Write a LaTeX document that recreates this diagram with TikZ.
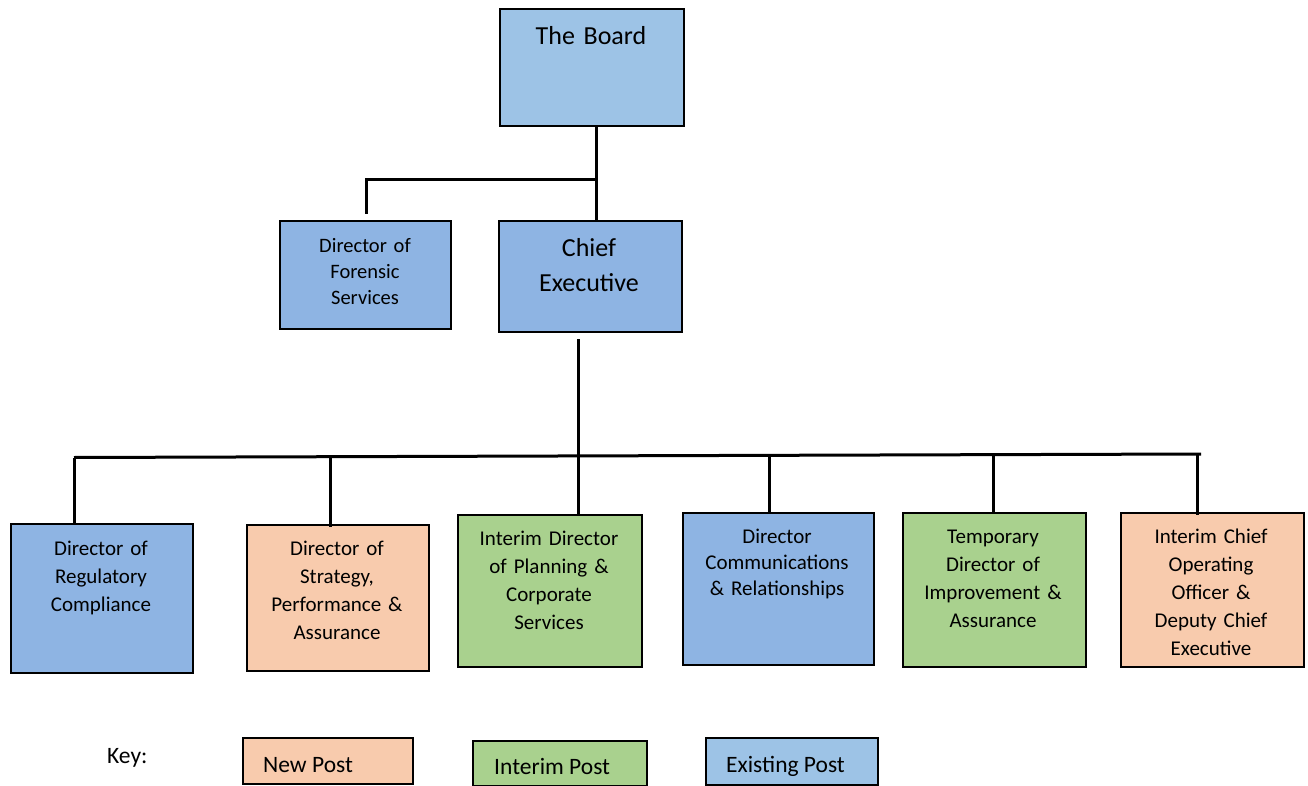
\documentclass[tikz,border=0pt]{standalone}
\usepackage{fontspec}
\setmainfont{Carlito}
\definecolor{blueA}{HTML}{9DC3E6}
\definecolor{blueB}{HTML}{8EB4E3}
\definecolor{peach}{HTML}{F8CBAD}
\definecolor{greenA}{HTML}{A9D18E}
\begin{document}
\begin{tikzpicture}[x=1pt,y=-1pt,
  box/.style={draw=black, line width=2pt, anchor=north west, inner sep=0pt},
  conn/.style={draw=black, line width=3pt},
  txt/.style={text width=180pt, align=center, inner sep=0pt, anchor=base, font=\fontsize{21}{28}\selectfont},
  txtb/.style={text width=180pt, align=center, inner sep=0pt, anchor=base, font=\fontsize{26}{35}\selectfont},
  keyt/.style={inner sep=0pt, anchor=base west, font=\fontsize{23.5}{26}\selectfont}]
\useasboundingbox (0,0) rectangle (1308,786);
% boxes
\node[box, fill=blueA, minimum width=184pt, minimum height=117pt] (board) at (499,8) {};
\node[box, fill=blueB, minimum width=171pt, minimum height=108pt] (fors) at (279,220) {};
\node[box, fill=blueB, minimum width=183pt, minimum height=111pt] (chief) at (498,220) {};
\node[box, fill=blueB, minimum width=182pt, minimum height=149pt] (reg) at (10,523) {};
\node[box, fill=peach, minimum width=182pt, minimum height=146pt] (strat) at (246,524) {};
\node[box, fill=greenA, minimum width=184pt, minimum height=152pt] (plan) at (457,514) {};
\node[box, fill=blueB, minimum width=191pt, minimum height=152pt] (comm) at (682,512) {};
\node[box, fill=greenA, minimum width=183pt, minimum height=154pt] (impr) at (902,512) {};
\node[box, fill=peach, minimum width=183pt, minimum height=154pt] (coo) at (1120,512) {};
% texts
\node[txtb] (boardt) at (591,45) {The Board};
\node[txt, font=\fontsize{20.5}{26}\selectfont] (forst) at (365,252) {Director of\\Forensic\\Services};
\node[txtb] (chieft) at (589,257) {Chief\\Executive};
\node[txt] (regt) at (101,555) {Director of\\Regulatory\\Compliance};
\node[txt] (stratt) at (337,555) {Director of\\Strategy,\\Performance \&\\Assurance};
\node[txt] (plant) at (549,545) {Interim Director\\of Planning \&\\Corporate\\Services};
\node[txt, font=\fontsize{21}{26}\selectfont] (commt) at (777,543) {Director\\Communications\\\& Relationships};
\node[txt] (imprt) at (993,543) {Temporary\\Director of\\Improvement \&\\Assurance};
\node[txt] (coot) at (1211,543) {Interim Chief\\Operating\\Officer \&\\Deputy Chief\\Executive};
% connectors top
\coordinate (j1) at (596,180);
\coordinate (j1l) at (366,180);
\coordinate (forsend) at (366,214);
\draw[conn] (board.south -| j1) -- (j1) -- (chief.north -| j1);
\draw[conn] (j1) -- (j1l) -- (forsend);
% bus
\coordinate (cstart) at (578,339);
\coordinate (busl) at (74,457.5);
\coordinate (busr) at (1201,454);
\coordinate (busm) at (578,456);
\draw[conn] (cstart) -- (busm) -- (plan.north -| busm);
\draw[conn] (busl) -- (busr);
\draw[conn] (busl) -- (reg.north -| busl);
\coordinate (b2) at (330,457);
\draw[conn] (b2) -- (330,527);
\coordinate (b4) at (769,456);
\draw[conn] (b4) -- (comm.north -| b4);
\coordinate (b5) at (993,455);
\draw[conn] (b5) -- (impr.north -| b5);
\coordinate (b6) at (1197,454);
\draw[conn] (b6) -- (1197,515);
% key
\node[keyt] (keyl) at (107,763) {Key:};
\node[box, fill=peach, minimum width=170pt, minimum height=46pt] (knew) at (242,737) {};
\node[box, fill=greenA, minimum width=174pt, minimum height=45pt] (kint) at (472,740) {};
\node[box, fill=blueA, minimum width=172pt, minimum height=47pt] (kex) at (705,737) {};
\node[keyt] (knewt) at (263,772) {New Post};
\node[keyt] (kintt) at (494,774) {Interim Post};
\node[keyt] (kext) at (726,772) {Existing Post};
\end{tikzpicture}
\end{document}
